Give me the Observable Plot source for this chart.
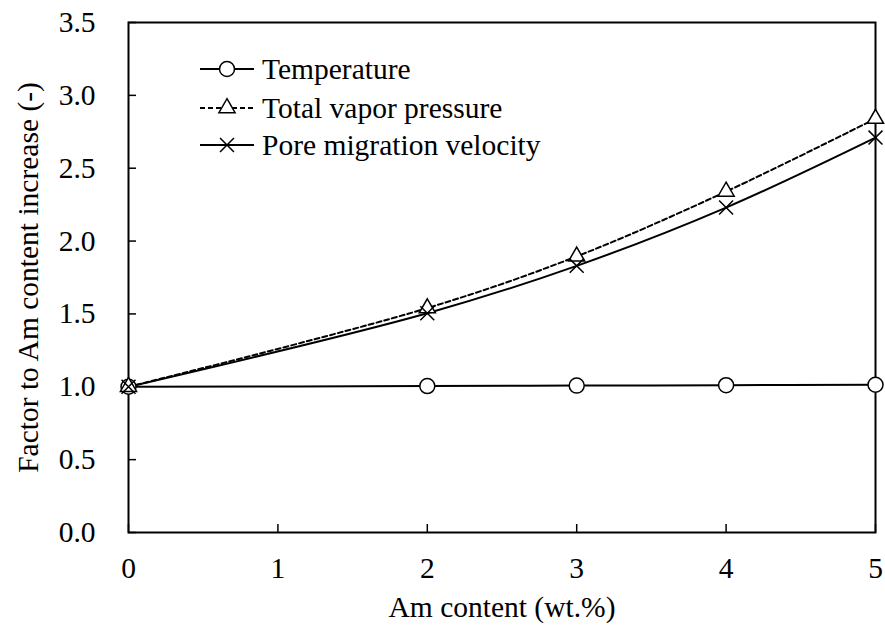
<!DOCTYPE html>
<html>
<head>
<meta charset="utf-8">
<script src="https://cdn.jsdelivr.net/npm/d3@7"></script>
<script src="https://cdn.jsdelivr.net/npm/@observablehq/plot@0.6"></script>
<style>
  body { margin: 0; background: #fff; }
  #chart { position: relative; width: 885px; height: 627px; }
  #legend { position: absolute; left: 0; top: 0; pointer-events: none; }
</style>
</head>
<body>
<div id="chart"></div>
<script>
// Am content (wt.%) and the factor each quantity changes by
const amContent = [0, 2, 3, 4, 5];
const temperature = [1.000, 1.005, 1.008, 1.011, 1.014];
const vaporPressure = [1.000, 1.540, 1.895, 2.340, 2.840];
const migrationVelocity = [1.000, 1.505, 1.830, 2.230, 2.710];
const seriesNames = ["Temperature", "Total vapor pressure", "Pore migration velocity"];
const xTicks = [0, 1, 2, 3, 4, 5];
const yTicks = [0, 0.5, 1.0, 1.5, 2.0, 2.5, 3.0, 3.5];
const xLabel = "Am content (wt.%)";
const yLabel = "Factor to Am content increase (-)";

const W = 885, H = 627;
const M = {top: 22, right: 10, bottom: 95, left: 128};
const innerW = W - M.left - M.right;
const innerH = H - M.top - M.bottom;
const font = "'Liberation Serif', 'Times New Roman', serif";
const fs = 29.5;

const rows = (ys) => amContent.map((x, i) => ({x, y: ys[i]}));
const tempRows = rows(temperature);
const vaporRows = rows(vaporPressure);
const veloRows = rows(migrationVelocity);

// marker sizes (Plot r → symbol area π r²)
const rCircle = 7.5, rTri = 6.0, rTimes = 6.4;

const chart = Plot.plot({
  width: W, height: H,
  marginTop: M.top, marginRight: M.right, marginBottom: M.bottom, marginLeft: M.left,
  style: {fontFamily: font, fontSize: fs + "px", color: "black", background: "white", overflow: "visible"},
  x: {domain: [0, 5], axis: null},
  y: {domain: [0, 3.5], axis: null},
  marks: [
    Plot.frame({stroke: "black", strokeWidth: 2}),
    // inward tick marks
    Plot.tickX(xTicks, {x: d => d, insetTop: innerH - 8, stroke: "black", strokeWidth: 1.5}),
    Plot.tickY(yTicks, {y: d => d, insetRight: innerW - 8, stroke: "black", strokeWidth: 1.5}),
    Plot.axisX({ticks: xTicks, tickSize: 0, tickPadding: 25, tickFormat: d3.format("d"), fontSize: fs, label: null}),
    Plot.axisY({ticks: yTicks, tickSize: 0, tickPadding: 33, tickFormat: d3.format(".1f"), fontSize: fs, label: null}),
    Plot.text([xLabel], {text: d => d, frameAnchor: "bottom", textAnchor: "middle", lineAnchor: "middle", dy: 75, fontSize: fs, fill: "black"}),
    Plot.text([yLabel], {text: d => d, frameAnchor: "left", textAnchor: "middle", lineAnchor: "middle", rotate: -90, dx: -100, fontSize: fs, fill: "black"}),
    // curves
    Plot.line(tempRows, {x: "x", y: "y", curve: "catmull-rom", stroke: "black", strokeWidth: 2}),
    Plot.line(vaporRows, {x: "x", y: "y", curve: "catmull-rom", stroke: "black", strokeWidth: 2, strokeDasharray: "5,3"}),
    Plot.line(veloRows, {x: "x", y: "y", curve: "catmull-rom", stroke: "black", strokeWidth: 2}),
    // markers
    Plot.dot(tempRows, {x: "x", y: "y", r: rCircle, fill: "white", stroke: "black", strokeWidth: 1.5}),
    Plot.dot(vaporRows, {x: "x", y: "y", r: rTri, symbol: "triangle", fill: "white", stroke: "black", strokeWidth: 1.5}),
    Plot.dot(veloRows, {x: "x", y: "y", r: rTimes, symbol: "times", stroke: "black", strokeWidth: 1.5})
  ]
});

const host = document.getElementById("chart");
host.appendChild(chart);

// legend inside the plotting area
const legend = d3.select(host).append("svg")
  .attr("id", "legend")
  .attr("width", W).attr("height", H)
  .style("font-family", font)
  .style("font-size", fs + "px");

const legendItems = [
  {name: seriesNames[0], dash: null, symbol: d3.symbolCircle, r: rCircle, fill: "white"},
  {name: seriesNames[1], dash: "5,3", symbol: d3.symbolTriangle, r: rTri, fill: "white"},
  {name: seriesNames[2], dash: null, symbol: d3.symbolTimes, r: rTimes, fill: "none"}
];
const legendY = [69, 108, 145];
const lx0 = 200, lx1 = 254, lxm = 227, ltx = 262;

legendItems.forEach((item, i) => {
  const g = legend.append("g").attr("transform", `translate(0,${legendY[i]})`);
  g.append("line")
    .attr("x1", lx0).attr("x2", lx1).attr("y1", 0).attr("y2", 0)
    .attr("stroke", "black").attr("stroke-width", 2)
    .attr("stroke-dasharray", item.dash);
  g.append("path")
    .attr("transform", `translate(${lxm},0)`)
    .attr("d", d3.symbol(item.symbol, Math.PI * item.r * item.r)())
    .attr("fill", item.fill).attr("stroke", "black").attr("stroke-width", 1.5);
  g.append("text")
    .attr("x", ltx).attr("y", 0).attr("dy", "0.35em")
    .attr("fill", "black")
    .text(item.name);
});
</script>
</body>
</html>
